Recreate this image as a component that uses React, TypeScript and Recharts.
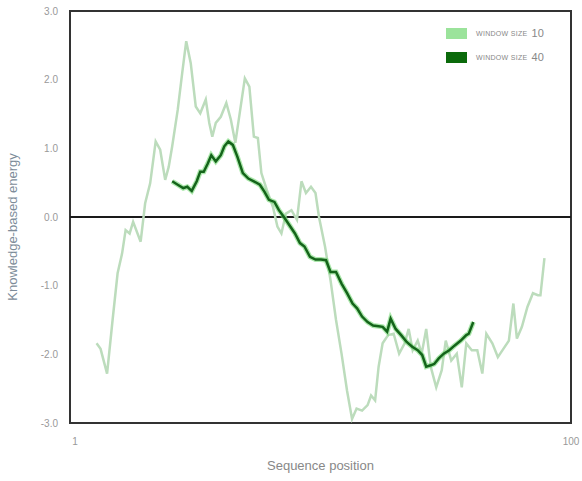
import React from "react";
import {
  LineChart,
  Line,
  XAxis,
  YAxis,
  ReferenceLine,
  ReferenceArea,
  Label,
} from "recharts";

// window size 10 profile (sequence position, energy)
const window10Pos = [
  5.3, 6.1, 7.4, 8.5, 9.5, 10.4, 11.1, 11.9, 12.6, 14.1, 15.0, 16.0, 17.1, 18.0,
  19.0, 19.7, 20.4, 21.5, 22.4, 23.2, 24.1, 25.1, 26.0, 27.1, 27.8, 28.4, 29.1,
  30.1, 31.2, 32.1, 33.0, 34.9, 35.8, 36.7, 37.5, 38.2, 39.3, 40.5, 41.4, 42.2,
  43.1, 44.2, 45.3, 46.2, 47.1, 48.1, 49.0, 49.7, 50.9, 52.0, 53.1, 54.2, 55.3,
  56.3, 57.2, 58.3, 59.4, 60.1, 60.9, 61.6, 62.4, 63.5, 64.6, 65.7, 66.8, 67.6,
  68.4, 69.4, 70.2, 71.1, 72.0, 73.1, 74.2, 75.0, 76.1, 77.2, 78.2, 79.1, 80.2,
  81.3, 82.3, 83.1, 84.3, 85.4, 86.5, 87.6, 88.5, 89.2, 90.2, 91.3, 92.4, 93.4,
  93.9, 94.7,
];
const window10Energy = [
  -1.84, -1.92, -2.28, -1.5, -0.82, -0.53, -0.19, -0.24, -0.07, -0.36, 0.2,
  0.49, 1.1, 0.98, 0.54, 0.73, 1.03, 1.56, 2.1, 2.56, 2.24, 1.61, 1.51, 1.71,
  1.37, 1.17, 1.37, 1.46, 1.66, 1.42, 1.08, 2.02, 1.9, 1.17, 1.15, 0.64, 0.39,
  0.15, -0.14, -0.24, 0.05, 0.1, -0.04, 0.52, 0.35, 0.44, 0.35, 0.0, -0.43,
  -0.92, -1.5, -1.99, -2.53, -2.94, -2.79, -2.82, -2.74, -2.6, -2.67, -2.18,
  -1.84, -1.72, -1.7, -1.99, -1.84, -1.63, -1.94, -1.8, -1.99, -1.63, -2.18,
  -2.48, -2.23, -1.8, -2.09, -1.99, -2.48, -1.84, -1.94, -1.94, -2.28, -1.7,
  -1.84, -2.04, -1.92, -1.8, -1.26, -1.77, -1.6, -1.31, -1.11, -1.14, -1.14,
  -0.6,
];

// window size 40 profile
const window40Pos = [
  20.4, 21.5, 22.6, 23.4, 24.3, 25.3, 26.0, 26.7, 27.5, 28.2, 29.1, 30.1, 30.8,
  31.6, 32.5, 33.4, 34.5, 35.6, 36.7, 37.9, 38.8, 39.7, 40.8, 41.7, 42.7, 43.8,
  44.9, 45.9, 46.8, 47.9, 49.0, 50.1, 51.1, 52.0, 53.1, 54.2, 55.3, 56.4, 57.3,
  58.3, 59.4, 60.5, 61.6, 62.4, 63.3, 64.0, 65.0, 66.1, 67.2, 68.3, 69.4, 70.3,
  71.1, 72.0, 72.7, 73.6, 74.6, 75.7, 76.8, 78.0, 79.1, 79.6, 80.5,
];
const window40Energy = [
  0.52, 0.47, 0.42, 0.44, 0.38, 0.52, 0.66, 0.66, 0.78, 0.9, 0.81, 0.9, 1.03,
  1.1, 1.05, 0.88, 0.64, 0.56, 0.52, 0.47, 0.37, 0.25, 0.22, 0.1, 0.0, -0.12,
  -0.24, -0.38, -0.43, -0.58, -0.62, -0.62, -0.63, -0.8, -0.8, -0.97, -1.11,
  -1.26, -1.33, -1.45, -1.53, -1.58, -1.59, -1.6, -1.67, -1.48, -1.63, -1.72,
  -1.82, -1.89, -1.94, -2.01, -2.18, -2.16, -2.14, -2.06, -1.99, -1.94, -1.87,
  -1.8, -1.72, -1.7, -1.53,
];

const yTicks = [-3, -2, -1, 0, 1, 2, 3];
const xTicks = [1, 100];

const window10 = window10Pos.map((x, i) => ({ x, y: window10Energy[i] }));
const window40 = window40Pos.map((x, i) => ({ x, y: window40Energy[i] }));

const legendItems = [
  { label: "10", color: "#9be39b" },
  { label: "40", color: "#0b6a0b" },
];

// legend drawn as an overlay so it does not shrink the plot area
const ChartLegend = () => (
  <div
    style={{
      position: "absolute",
      top: 21,
      left: 446,
      fontFamily: "Arial, Liberation Sans, sans-serif",
      color: "#888",
    }}
  >
    {legendItems.map((item) => (
      <div
        key={item.label}
        style={{ display: "flex", alignItems: "center", height: 24 }}
      >
        <span
          style={{
            display: "inline-block",
            width: 21,
            height: 11,
            background: item.color,
            marginRight: 9,
          }}
        />
        <span style={{ fontSize: 7, letterSpacing: 0.3 }}>WINDOW SIZE</span>
        <span style={{ fontSize: 11, marginLeft: 4 }}>{item.label}</span>
      </div>
    ))}
  </div>
);

const App: React.FC = () => {
  return (
    <div style={{ position: "absolute", left: 0, top: 0, background: "#fff" }}>
      <LineChart
        width={582}
        height={481}
        margin={{ top: 11, right: 11, bottom: 28, left: 0 }}
      >
        <XAxis
          type="number"
          dataKey="x"
          domain={[0, 100]}
          ticks={xTicks}
          axisLine={false}
          tickLine={false}
          tickSize={0}
          tickMargin={15}
          height={30}
          tick={{ fill: "#999", fontSize: 10, fontFamily: "Arial" }}
        >
          <Label
            value="Sequence position"
            position="bottom"
            offset={8}
            style={{ fill: "#888", fontSize: 13, fontFamily: "Arial" }}
          />
        </XAxis>
        <YAxis
          type="number"
          domain={[-3, 3]}
          ticks={yTicks}
          width={70}
          axisLine={false}
          tickLine={false}
          tickSize={0}
          tickMargin={12}
          tickFormatter={(v: number) => v.toFixed(1)}
          tick={{ fill: "#999", fontSize: 10, fontFamily: "Arial" }}
        >
          <Label
            value="Knowledge-based energy"
            angle={-90}
            position="insideLeft"
            offset={12}
            dy={10}
            style={{ fill: "#7d8c99", fontSize: 13, fontFamily: "Arial", textAnchor: "middle" }}
          />
        </YAxis>
        <ReferenceArea
          x1={0}
          x2={100}
          y1={-3}
          y2={3}
          fill="none"
          stroke="#333"
          strokeWidth={2}
          ifOverflow="visible"
        />
        <ReferenceLine y={0} stroke="#1a1a1a" strokeWidth={2} />
        <Line
          data={window10}
          dataKey="y"
          type="linear"
          stroke="#bcdcbc"
          strokeWidth={2.5}
          dot={false}
          isAnimationActive={false}
        />
        <Line
          data={window40}
          dataKey="y"
          type="linear"
          stroke="#74d874"
          strokeOpacity={0.6}
          strokeWidth={5}
          dot={false}
          isAnimationActive={false}
        />
        <Line
          data={window40}
          dataKey="y"
          type="linear"
          stroke="#14641a"
          strokeWidth={2.5}
          dot={false}
          isAnimationActive={false}
        />
      </LineChart>
      <ChartLegend />
    </div>
  );
};

export default App;
